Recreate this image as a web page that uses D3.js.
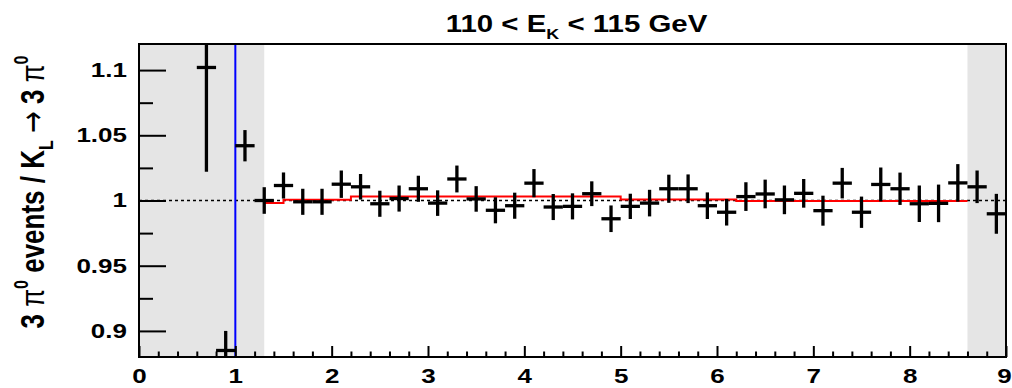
<!DOCTYPE html>
<html>
<head>
<meta charset="utf-8">
<script src="https://cdn.jsdelivr.net/npm/d3@7"></script>
<style>
  html, body { margin: 0; padding: 0; background: #fff; }
  svg { display: block; font-family: "Liberation Sans", Arial, Helvetica, sans-serif; }
</style>
</head>
<body>
<svg id="chart" width="1012" height="388"></svg>
<script>
// Ratio of data to simulation per 0.2 bin
const binCenters = [0.7, 0.9, 1.1, 1.3, 1.5, 1.7, 1.9, 2.1, 2.3, 2.5, 2.7, 2.9, 3.1, 3.3,
  3.5, 3.7, 3.9, 4.1, 4.3, 4.5, 4.7, 4.9, 5.1, 5.3, 5.5, 5.7, 5.9, 6.1, 6.3, 6.5, 6.7,
  6.9, 7.1, 7.3, 7.5, 7.7, 7.9, 8.1, 8.3, 8.5, 8.7, 8.9];
const ratio = [1.102, 0.885, 1.042, 1.000, 1.0115, 0.999, 0.999, 1.0125, 1.0105, 0.9975,
  1.0015, 1.009, 0.998, 1.0165, 1.0012, 0.9925, 0.996, 1.0133, 0.995, 0.9955, 1.0052,
  0.986, 0.9955, 0.998, 1.009, 1.009, 0.996, 0.991, 1.003, 1.005, 1.0005, 1.0055, 0.9922,
  1.0133, 0.991, 1.0123, 1.009, 0.9975, 0.9978, 1.0135, 1.0105, 0.9898];
const ratioErr = [0.08, 0.015, 0.012, 0.0102, 0.0100, 0.0100, 0.0100, 0.0105, 0.0098,
  0.0100, 0.0100, 0.0100, 0.0098, 0.0103, 0.0098, 0.0100, 0.0100, 0.0108, 0.0100, 0.0100,
  0.0095, 0.0102, 0.0097, 0.0102, 0.0108, 0.0110, 0.0102, 0.0102, 0.0110, 0.0110, 0.0110,
  0.0110, 0.0115, 0.0117, 0.0120, 0.0130, 0.0124, 0.0140, 0.0144, 0.0144, 0.0125, 0.0153];
const binHalfWidth = 0.1;

// Fitted step function over the accepted range
const fitEdges = [1.3, 1.5, 2.2, 5.0, 6.2, 8.6];
const fitValues = [0.998, 1.0005, 1.003, 1.0008, 0.9996];

// Excluded regions and the cut position
const excludedRanges = [[0, 1.3], [8.6, 9]];
const cutPosition = 1;

// Axis ticks
const xMajorTicks = [0, 1, 2, 3, 4, 5, 6, 7, 8, 9];
const yMajorTicks = [0.9, 0.95, 1, 1.05, 1.1];
const yMinorTicks = [0.925, 0.975, 1.025, 1.075];
const xMinorTicks = d3.range(0, 9.0001, 0.2).map(v => +v.toFixed(1))
  .filter(v => !xMajorTicks.includes(v));

const titleMain = "110 < E", titleSub = "K", titleTail = " < 115 GeV";

const frame = { left: 139, right: 1006, top: 44, bottom: 357 };
const labelStretch = 1.3;

const svg = d3.select("#chart");
const x = d3.scaleLinear().domain([0, 9]).range([frame.left, frame.right]);
const y = d3.scaleLinear().domain([0.88, 1.12]).range([frame.bottom, frame.top]);

svg.append("defs").append("clipPath").attr("id", "plotClip")
  .append("rect")
  .attr("x", frame.left).attr("y", frame.top)
  .attr("width", frame.right - frame.left).attr("height", frame.bottom - frame.top);

const plot = svg.append("g").attr("clip-path", "url(#plotClip)");

// Shaded excluded regions
plot.selectAll("rect.excl").data(excludedRanges).join("rect")
  .attr("class", "excl")
  .attr("x", d => x(d[0])).attr("width", d => x(d[1]) - x(d[0]))
  .attr("y", frame.top).attr("height", frame.bottom - frame.top)
  .attr("fill", "#e5e5e5");

// Reference line at unity
plot.append("line")
  .attr("x1", x(0)).attr("x2", x(9))
  .attr("y1", y(1)).attr("y2", y(1))
  .attr("stroke", "#000").attr("stroke-width", 1.6)
  .attr("stroke-dasharray", "3,3");

// Fit step line
const fitPts = fitValues.map((v, i) => [fitEdges[i], v]);
fitPts.push([fitEdges[fitEdges.length - 1], fitValues[fitValues.length - 1]]);
plot.append("path")
  .attr("d", d3.line().x(d => x(d[0])).y(d => y(d[1])).curve(d3.curveStepAfter)(fitPts))
  .attr("fill", "none").attr("stroke", "#ff0000").attr("stroke-width", 2);

// Cut line
plot.append("line")
  .attr("x1", x(cutPosition)).attr("x2", x(cutPosition))
  .attr("y1", frame.top).attr("y2", frame.bottom)
  .attr("stroke", "#0000ff").attr("stroke-width", 2);

// Data points with error bars
const pts = plot.selectAll("g.pt").data(binCenters.map((c, i) => ({ c, v: ratio[i], e: ratioErr[i] })))
  .join("g").attr("class", "pt");
pts.append("line")
  .attr("x1", d => x(d.c - binHalfWidth)).attr("x2", d => x(d.c + binHalfWidth))
  .attr("y1", d => y(d.v)).attr("y2", d => y(d.v))
  .attr("stroke", "#000").attr("stroke-width", 3.3);
pts.append("line")
  .attr("x1", d => x(d.c)).attr("x2", d => x(d.c))
  .attr("y1", d => y(d.v - d.e)).attr("y2", d => y(d.v + d.e))
  .attr("stroke", "#000").attr("stroke-width", 3.3);

// Frame
svg.append("rect")
  .attr("x", frame.left).attr("y", frame.top)
  .attr("width", frame.right - frame.left).attr("height", frame.bottom - frame.top)
  .attr("fill", "none").attr("stroke", "#000").attr("stroke-width", 2);

// Axes (ticks drawn inside the frame)
function styleAxis(g) {
  g.select(".domain").remove();
  g.selectAll(".tick line").attr("stroke", "#000").attr("stroke-width", 2);
  g.selectAll("text").attr("fill", "#000").attr("font-weight", "bold")
    .attr("font-family", "'Liberation Sans', Arial, Helvetica, sans-serif");
}

const yAxisG = svg.append("g").attr("transform", `translate(${frame.left},0)`)
  .call(d3.axisLeft(y).tickValues(yMajorTicks).tickSize(-27).tickPadding(12).tickFormat(d => String(d)))
  .call(styleAxis);
yAxisG.selectAll("text").attr("font-size", 20).each(function () {
  const t = d3.select(this);
  const tx = +t.attr("x");
  t.attr("x", 0).attr("transform", `translate(${tx},0) scale(${labelStretch},1)`);
});
svg.append("g").attr("transform", `translate(${frame.left},0)`)
  .call(d3.axisLeft(y).tickValues(yMinorTicks).tickSize(-14).tickFormat(""))
  .call(styleAxis);

const xAxisG = svg.append("g").attr("transform", `translate(0,${frame.bottom})`)
  .call(d3.axisBottom(x).tickValues(xMajorTicks).tickSize(-11).tickPadding(12).tickFormat(d3.format("d")))
  .call(styleAxis);
xAxisG.selectAll("text").attr("font-size", 20)
  .attr("transform", d => `translate(${d === 9 ? -2 : 0},0) scale(${labelStretch},1)`);
svg.append("g").attr("transform", `translate(0,${frame.bottom})`)
  .call(d3.axisBottom(x).tickValues(xMinorTicks).tickSize(-5.5).tickFormat(""))
  .call(styleAxis);

// Title
const title = svg.append("text")
  .attr("transform", `translate(${(frame.left + frame.right) / 2 + 4},32) scale(1.28,1)`)
  .attr("text-anchor", "middle").attr("font-weight", "bold").attr("font-size", 23);
title.append("tspan").text(titleMain);
title.append("tspan").attr("font-size", 14).attr("dy", 7).text(titleSub);
title.append("tspan").attr("dy", -7).text(titleTail);

// Y axis title
const yt = svg.append("text")
  .attr("transform", `translate(44,192) scale(1.3,1) rotate(-90)`)
  .attr("text-anchor", "middle").attr("font-weight", "bold").attr("font-size", 26);
yt.append("tspan").text("3 ");
yt.append("tspan").attr("font-weight", "normal").text("π");
yt.append("tspan").attr("font-size", 16).attr("dy", -12).text("0");
yt.append("tspan").attr("dy", 12).text(" events / K");
yt.append("tspan").attr("font-size", 16).attr("dy", 7).text("L");
yt.append("tspan").attr("dy", -7).text(" ");
yt.append("tspan").attr("font-weight", "normal").attr("font-family", "'DejaVu Sans', sans-serif").text("\u2192");
yt.append("tspan").text(" 3 ");
yt.append("tspan").attr("font-weight", "normal").text("π");
yt.append("tspan").attr("font-size", 16).attr("dy", -12).text("0");
</script>
</body>
</html>
